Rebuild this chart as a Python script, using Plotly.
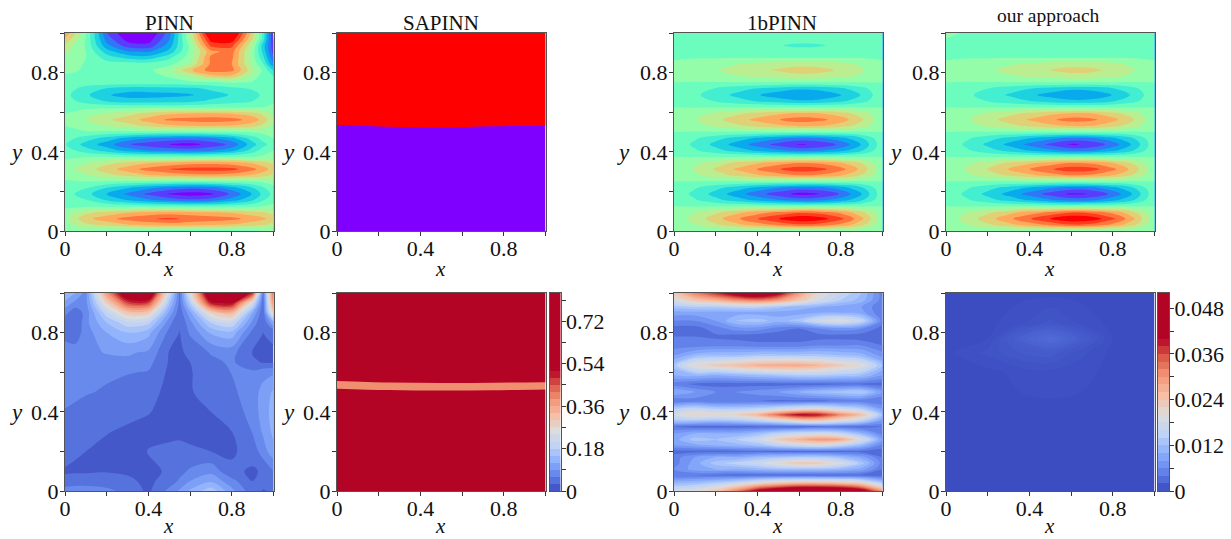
import math
import plotly.graph_objects as go

W, H = 1231, 539
FONT = "Liberation Serif"

# ---------- data ----------
TITLES = ["PINN", "SAPINN", "1bPINN", "our approach"]
AXIS_TICKS = [0, 0.2, 0.4, 0.6, 0.8, 1.0]
AXIS_TICK_TEXT = ["0", "", "0.4", "", "0.8", ""]
BAR_A_TICKS = [0, 0.09, 0.18, 0.27, 0.36, 0.45, 0.54, 0.63, 0.72, 0.81]
BAR_A_TEXT = ["0", "", "0.18", "", "0.36", "", "0.54", "", "0.72", ""]
BAR_B_TICKS = [0, 0.006, 0.012, 0.018, 0.024, 0.03, 0.036, 0.042, 0.048]
BAR_B_TEXT = ["0", "", "0.012", "", "0.024", "", "0.036", "", "0.048"]

Y32 = [i / 32 for i in range(33)]
X11 = [0, .1, .2, .3, .4, .5, .6, .7, .8, .9, 1]
X12 = [0, .1, .2, .3, .4, .5, .6, .7, .8, .9, .95, 1]

# solution panels: value in contour-band units, row by row from y=0 to y=1
U_PINN = [
 [.8,.6,.4,.3,.2,.1,.1,.1,.1,.3,.5,.8],
 [1.0,2.2,2.8,3.4,3.8,4.0,3.8,3.6,3.4,2.9,2.6,2.1],
 [1.2,3.2,4.1,4.9,5.4,5.7,5.3,5.1,4.8,4.1,3.7,3.0],
 [.9,2.2,2.8,3.4,3.8,4.0,3.8,3.6,3.4,2.9,2.6,2.1],
 [.3,.3,.2,.1,0,-.1,-.2,-.2,0,.2,.5,.7],
 [.1,-.4,-1.6,-2.5,-3.3,-3.9,-4.3,-4.0,-3.0,-1.6,-.6,.2],
 [0,-1.1,-2.5,-3.7,-4.7,-5.6,-6,-5.7,-4.3,-2.4,-1.2,-.2],
 [.1,-.4,-1.5,-2.4,-3.2,-3.8,-4.2,-3.9,-2.9,-1.5,-.6,.2],
 [.4,.5,.4,.3,.2,.1,.1,.2,.3,.5,.7,.9],
 [.8,1.4,2.2,2.8,3.4,3.8,4.1,4.2,4.0,3.4,2.9,2.3],
 [1.1,2,3,4,4.9,5.5,5.9,6,5.8,4.8,4.0,3.0],
 [.8,1.4,2.2,2.8,3.4,3.8,4.1,4.2,4.0,3.4,2.9,2.3],
 [.3,.4,.4,.3,.2,.2,.2,.3,.4,.5,.7,.9],
 [0,-1.0,-1.9,-2.9,-3.5,-3.8,-4,-3.6,-2.8,-1.0,-.1,.5],
 [-.4,-1.9,-3,-4.4,-5,-5.5,-5.8,-5.2,-4.2,-1.9,-.8,0],
 [0,-1.0,-1.9,-2.9,-3.5,-3.8,-4,-3.6,-2.8,-1.0,-.1,.5],
 [.3,.4,.3,.2,.2,.1,.2,.2,.4,.6,.8,1],
 [.5,1.1,1.6,2.1,2.8,3.3,3.5,3.6,3.4,2.9,2.2,1.3],
 [.7,1.5,2.3,3,3.9,4.7,4.9,5.1,4.9,4.1,3.1,1.6],
 [.5,1.1,1.6,2.1,2.8,3.3,3.5,3.6,3.4,2.9,2.2,1.3],
 [.2,.2,.2,.2,.2,.2,.2,.3,.3,.4,.5,.7],
 [0,-.9,-1.6,-2,-2,-1.9,-1.8,-1.3,-.9,-.5,-.1,.4],
 [-.2,-1.3,-2.4,-2.9,-2.9,-2.8,-2.6,-2,-1.4,-.9,-.3,.3],
 [0,-.9,-1.6,-2,-2,-1.9,-1.8,-1.3,-.8,-.4,-.1,.2],
 [.1,0,.1,.1,.1,.1,.2,.3,.6,.4,0,-.1],
 [.3,.2,.2,.2,.2,.6,1.6,3.0,3.2,1.0,.1,-.5],
 [.9,.3,.1,.1,.3,1.2,3.3,5.0,4.8,1.8,.3,-1.6],
 [1.1,.4,-.1,0,0,.2,1.6,4.7,4.5,1.2,-.4,-3.6],
 [1.4,.5,-.9,-1.8,-2.0,-.7,1.0,4.7,4.7,1.0,-1.2,-4.4],
 [1.7,.5,-2.0,-3.4,-3.6,-2.2,.8,4.2,4.9,1.0,-1.8,-5.0],
 [2.2,.4,-3.2,-5,-5.2,-3.0,.8,5.8,5.8,1.4,-2,-5.2],
 [3.3,.4,-3.9,-5.9,-6.0,-3.6,1.4,7.0,7.2,2.4,-1.0,-5.6],
 [4.4,.6,-4.5,-6.5,-6.7,-4.0,1.6,8.5,8.5,3.0,-.8,-5.8],
]

U_LB = [
 [.6,.6,.6,.6,.6,.6,.6,.6,.6,.6,.6],
 [.74,1.47,2.33,3.2,4.02,4.75,5.33,5.09,4.26,2.81,.74],
 [.84,1.86,3.08,4.31,5.46,6.48,7.3,6.96,5.8,3.76,.84],
 [.74,1.47,2.33,3.2,4.02,4.75,5.33,5.09,4.26,2.81,.74],
 [.5,.45,.45,.45,.45,.45,.45,.45,.45,.45,.5],
 [.27,-.39,-1.2,-2.0,-2.77,-3.43,-3.97,-3.75,-2.99,-1.64,.27],
 [.18,-.76,-1.89,-3.03,-4.1,-5.04,-5.8,-5.49,-4.41,-2.52,.18],
 [.27,-.39,-1.2,-2.0,-2.77,-3.43,-3.97,-3.75,-2.99,-1.64,.27],
 [.5,.45,.45,.45,.45,.45,.45,.45,.45,.45,.5],
 [.7,1.3,2.01,2.73,3.4,4.0,4.48,4.28,3.6,2.41,.7],
 [.78,1.62,2.63,3.64,4.59,5.43,6.1,5.82,4.87,3.19,.78],
 [.7,1.3,2.01,2.73,3.4,4.0,4.48,4.28,3.6,2.41,.7],
 [.5,.45,.45,.45,.45,.45,.45,.45,.45,.45,.5],
 [.28,-.37,-1.15,-1.93,-2.66,-3.31,-3.83,-3.62,-2.88,-1.58,.28],
 [.19,-.72,-1.82,-2.92,-3.95,-4.87,-5.6,-5.3,-4.26,-2.43,.19],
 [.28,-.37,-1.15,-1.93,-2.66,-3.31,-3.83,-3.62,-2.88,-1.58,.28],
 [.5,.45,.45,.45,.45,.45,.45,.45,.45,.45,.5],
 [.66,1.14,1.71,2.29,2.83,3.31,3.7,3.54,2.99,2.03,.66],
 [.73,1.4,2.21,3.02,3.79,4.46,5.0,4.78,4.01,2.66,.73],
 [.66,1.14,1.71,2.29,2.83,3.31,3.7,3.54,2.99,2.03,.66],
 [.5,.45,.45,.45,.45,.45,.45,.45,.45,.45,.5],
 [.36,-.07,-.58,-1.09,-1.57,-2,-2.34,-2.2,-1.72,-.86,.36],
 [.3,-.3,-1.02,-1.74,-2.42,-3.02,-3.5,-3.3,-2.62,-1.42,.3],
 [.36,-.07,-.58,-1.09,-1.57,-2,-2.34,-2.2,-1.72,-.86,.36],
 [.5,.45,.45,.45,.45,.45,.45,.45,.45,.45,.5],
 [.59,.84,1.15,1.45,1.74,2.0,2.2,2.12,1.83,1.32,.59],
 [.62,.98,1.41,1.84,2.25,2.61,2.9,2.78,2.37,1.65,.62],
 [.59,.84,1.15,1.45,1.74,2.0,2.2,2.12,1.83,1.32,.59],
 [.45,.45,.45,.45,.45,.45,.45,.45,.45,.45,.45],
 [.46,.34,.2,.06,-.07,-.19,-.28,-.25,-.11,.12,.46],
 [.44,.28,.08,-.12,-.3,-.47,-.6,-.55,-.36,-.03,.44],
 [.46,.34,.2,.06,-.07,-.19,-.28,-.25,-.11,.12,.46],
 [.3,.3,.3,.3,.3,.3,.3,.3,.3,.3,.3],
]

U_OURS = [
 [.6,.6,.6,.6,.6,.6,.6,.6,.6,.6,.6],
 [.74,1.48,2.31,3.14,3.98,4.76,5.4,5.2,4.22,2.75,.74],
 [.85,1.88,3.05,4.23,5.4,6.5,7.4,7.12,5.74,3.67,.85],
 [.74,1.48,2.31,3.14,3.98,4.76,5.4,5.2,4.22,2.75,.74],
 [.5,.45,.45,.45,.45,.45,.45,.45,.45,.45,.5],
 [.28,-.38,-1.13,-1.88,-2.63,-3.33,-3.9,-3.73,-2.85,-1.52,.28],
 [.19,-.74,-1.79,-2.85,-3.9,-4.89,-5.7,-5.45,-4.21,-2.35,.19],
 [.28,-.38,-1.13,-1.88,-2.63,-3.33,-3.9,-3.73,-2.85,-1.52,.28],
 [.5,.45,.45,.45,.45,.45,.45,.45,.45,.45,.5],
 [.7,1.3,1.97,2.65,3.32,3.96,4.48,4.32,3.52,2.33,.7],
 [.78,1.62,2.57,3.52,4.48,5.37,6.1,5.88,4.76,3.08,.78],
 [.7,1.3,1.97,2.65,3.32,3.96,4.48,4.32,3.52,2.33,.7],
 [.5,.45,.45,.45,.45,.45,.45,.45,.45,.45,.5],
 [.29,-.35,-1.08,-1.8,-2.52,-3.21,-3.76,-3.59,-2.74,-1.46,.29],
 [.2,-.7,-1.72,-2.74,-3.76,-4.72,-5.65,-5.26,-4.06,-2.26,.2],
 [.29,-.35,-1.08,-1.8,-2.52,-3.21,-3.76,-3.59,-2.74,-1.46,.29],
 [.5,.45,.45,.45,.45,.45,.45,.45,.45,.45,.5],
 [.66,1.12,1.66,2.19,2.72,3.22,3.62,3.5,2.87,1.93,.66],
 [.72,1.38,2.13,2.88,3.62,4.33,4.9,4.72,3.84,2.52,.72],
 [.66,1.12,1.66,2.19,2.72,3.22,3.62,3.5,2.87,1.93,.66],
 [.5,.45,.45,.45,.45,.45,.45,.45,.45,.45,.5],
 [.36,-.05,-.52,-1,-1.47,-1.91,-2.27,-2.16,-1.6,-.77,.36],
 [.3,-.28,-.94,-1.61,-2.27,-2.89,-3.4,-3.24,-2.46,-1.29,.3],
 [.36,-.05,-.52,-1,-1.47,-1.91,-2.27,-2.16,-1.6,-.77,.36],
 [.5,.45,.45,.45,.45,.45,.45,.45,.45,.45,.5],
 [.58,.83,1.1,1.38,1.66,1.92,2.13,2.07,1.74,1.25,.58],
 [.62,.96,1.35,1.74,2.13,2.5,2.8,2.71,2.25,1.56,.62],
 [.58,.83,1.1,1.38,1.66,1.92,2.13,2.07,1.74,1.25,.58],
 [.45,.45,.45,.45,.45,.45,.45,.45,.45,.45,.45],
 [.47,.4,.32,.23,.15,.07,.0,.02,.12,.27,.47],
 [.46,.36,.24,.12,0,-.11,-.2,-.17,-.03,.18,.46],
 [.47,.4,.32,.23,.15,.07,.0,.02,.12,.27,.47],
 [.9,.3,.3,.3,.3,.3,.3,.3,.3,.3,.3],
]

# SAPINN solution: two flat regions split by a curve near y = 0.53
SAP_X = [0, .25, .5, .75, 1]
SAP_Y = [0, .515, .54, 1]
U_SAP = [
 [-1, -1, -1, -1, -1],
 [-1, -.35, -.39, -.6, -1],
 [.25, .4, 1, .5, .47],
 [1, 1, 1, 1, 1],
]

# PINN error, in hundredths
E_PINN_X = [0, .05, .1, .2, .3, .4, .5, .55, .6, .7, .8, .9, .95, 1]
E_PINN_Y = [0, .05, .1, .2, .3, .4, .5, .6, .65, .7, .8, .85, .9, .95, 1]
E_PINN = [
 [7.5,7.5,7.5,6.8,5,2.4,7,9.5,12.5,17,10,4,2.9,3.2],
 [4.0,4.5,4.6,4.4,3.5,2.4,4.2,6.5,9,11.5,7,3,3.5,4.5],
 [2.6,2.6,2.6,2.8,2.6,2.3,3.4,5.0,6.5,8,3.6,2.6,3.4,6],
 [4.5,3.3,3.0,2.5,2.3,3.1,3.7,4,3.4,3,2.6,4.2,7.5,11],
 [4.3,3.8,3.5,3.1,2.7,2.4,2.2,2.2,2.3,2.5,3.0,6.2,9.5,12.8],
 [5.8,5.2,4.6,3.9,3.5,3.1,2.4,2.3,2.4,3,4.4,7.2,10.5,13.2],
 [7,6.8,6.3,5.6,4.7,3.5,2.6,2.4,2.8,4.0,5.4,7.6,10,12.5],
 [7.2,7.0,6.8,6.6,6.2,5.8,2.4,2.5,2.8,4.5,6.1,6.6,8,8.5],
 [7.3,7.2,7.3,8,8.3,7,2.7,2.5,3,5.2,6.5,3.5,2.8,2.6],
 [7.3,7.4,8.2,9.2,9.4,8.5,2.8,2.6,3.6,6.3,7,2.8,2.5,2.7],
 [5,4.2,7.5,12,15,13,5,2.9,6.5,12.5,14,5,3,3.5],
 [4,3,8,15,20,19,7,3.2,8,18,21,8,3,12],
 [7,4,7,20,30,29,11,4,11,28,33,12,3.5,30],
 [11,8,8,28,46,46,16,5,18,50,52,23,4,40],
 [15,12,8,38,60,62,22,5,25,62,68,48,5,44],
]

# SAPINN error: a thin band on a flat high field
SAP_E_Y = [0, .49, .52, .535, .57, 1]
E_SAP = [
 [.8, .8, .8, .8, .8],
 [.8, .8, .8, .8, .8],
 [.578, .5, .447, .484, .539],
 [.3, .482, .508, .496, .467],
 [.8, .8, .8, .8, .8],
 [.8, .8, .8, .8, .8],
]

# 1bPINN error, in thousandths
E_LB_Y = [0, .04, .08, .11, .14, .17, .2, .23, .26, .29, .325, .355, .385, .415,
          .455, .5, .54, .585, .635, .685, .735, .78, .82, .86, .9, .93, .965, 1]
E_LB = [
 [18,20,24,32,42,48,52,52,50,44,30],
 [11,12,14,17,21,24,26,26,25,22,14],
 [4,4,3.5,3,3,3,3,3,3,3,2.5],
 [6,9,10,10,11,12,12,12,11,9,4],
 [5,9,13,15,17,21,24,23,19,13,5],
 [5,8,10,10,12,13,14,14,12,9,4],
 [3,3,3,3,3.5,3,3,3,3,3,3],
 [8,9,10,11,12,15,17,18,15,11,5],
 [9,13,12,14,17,23,27,30,28,19,8],
 [8,10,10,10,12,15,17,18,16,11,5],
 [4,3,3,3,3,3,3,3.5,3.5,3,4],
 [13,13,12,13,15,18,22,23,19,15,8],
 [18,22,21,22,26,34,41,39,31,25,12],
 [14,16,14,14,15,17,19,20,17,14,8],
 [4,5,4,4,4,3.5,3.5,3.5,4.5,4.5,4],
 [10,8,6,6,7,8,10,12,13,14,8],
 [5,3.5,3,3,3,3,3,3,3.5,3.5,3],
 [10,11,10,11,12,13,14,14,13,12,8],
 [13,21,23,25,27,28,28,26,23,20,12],
 [8,11,12,12,13,13,13,13,12,11,7],
 [5,5,5.5,5.5,5,5,5,6,6,6,4],
 [4,4,3.5,3,2.5,2.5,2.5,3,3,2.5,3],
 [3,3,5,7,7,5,4,6,7,6,3],
 [6,6,8,12,13,11,13,18,20,16,5],
 [9,9,9,9,9,9,9,10,10,9,4],
 [13,14,14,15,15,13,11,10,9,8,4],
 [19,24,27,31,33,30,24,18,14,11,5],
 [24,32,38,44,48,42,30,20,16,12,5],
]

# our approach error, in thousandths
E_OUR_X = [0, .2, .35, .5, .65, .8, 1]
E_OUR_Y = [0, .4, .6, .7, .77, .85, 1]
E_OURS = [
 [.2,.2,.2,.2,.2,.2,.2],
 [.2,.2,.2,.2,.2,.2,.2],
 [.2,.2,.4,.5,.4,.2,.2],
 [.2,.7,1.2,1.4,.7,.2,.2],
 [.2,.3,1.8,2.9,1.6,.3,.2],
 [.2,.2,.5,1.0,.5,.2,.2],
 [.2,.2,.2,.2,.2,.2,.2],
]

# ---------- colours ----------
def rainbow(t):
    r = abs(2 * t - .5)
    g = math.sin(math.pi * t)
    b = math.cos(math.pi * t / 2)
    return "rgb(%d,%d,%d)" % (min(r, 1) * 255, g * 255, b * 255)

CW = [(0, (59,76,192)), (.125, (98,130,234)), (.25, (141,176,254)), (.375, (191,211,246)),
      (.5, (221,220,220)), (.625, (246,191,166)), (.75, (244,152,123)), (.875, (220,93,74)), (1, (180,4,38))]

def coolwarm(t):
    t = min(max(t, 0), 1)
    for (a, ca), (b, cb) in zip(CW, CW[1:]):
        if t <= b:
            f = (t - a) / (b - a)
            return "rgb(%d,%d,%d)" % tuple(ca[i] + f * (cb[i] - ca[i]) for i in range(3))
    return "rgb(180,4,38)"

def stepped(colors):
    n = len(colors) - 1
    out = []
    for k, c in enumerate(colors):
        lo = max(0, (k - .75) / n)
        hi = 1 if k == n else (k + .25) / n
        out += [[lo, c], [hi, c]]
    return out

RB_COLORS = [rainbow(i / 13) for i in range(14)]
A_COLORS = [coolwarm((k + .5) * .03 / .51) for k in range(28)]
B_COLORS = [coolwarm((k + .5) * .002 / .04) for k in range(26)]
OUR_COLORS = [coolwarm((k + .5) * .3 / 40) for k in range(10)]

RB = dict(start=-5.5, end=6.5, size=1)
CA = dict(start=3, end=81, size=3)
CB = dict(start=2, end=50, size=2)
CO = dict(start=.3, end=2.7, size=.3)

PANEL_L = [65, 337, 674, 946]
PANEL_W = 208.5
ROW_T = [33, 293]
PANEL_H = 198
XLABEL_Y = [269, 526]

panels = [
    (U_PINN, X12, Y32, RB, RB_COLORS),
    (U_SAP, SAP_X, SAP_Y, dict(start=0, end=0, size=1), ["#8000ff", "#ff0000"]),
    (U_LB, X11, Y32, RB, RB_COLORS),
    (U_OURS, X11, Y32, RB, RB_COLORS),
    (E_PINN, E_PINN_X, E_PINN_Y, CA, A_COLORS),
    (E_SAP, SAP_X, SAP_E_Y, dict(start=.6, end=.6, size=1), ["#f08f70", "#b40426"]),
    (E_LB, X11, E_LB_Y, CB, B_COLORS),
    (E_OURS, E_OUR_X, E_OUR_Y, CO, OUR_COLORS),
]

fig = go.Figure()
layout = dict(
    width=W, height=H, margin=dict(l=0, r=0, t=0, b=0, autoexpand=False), paper_bgcolor="white", plot_bgcolor="white",
    showlegend=False, font=dict(family=FONT, size=21, color="#111"),
)
ann = []
LINE = "#555"

def xd(a, b): return [a / W, b / W]
def yd(t, b): return [1 - b / H, 1 - t / H]

def label(text, px, py, size, italic=False):
    ann.append(dict(text="<i>%s</i>" % text if italic else text, x=px / W, y=1 - py / H, xref="paper", yref="paper",
                    xanchor="center", yanchor="middle", showarrow=False,
                    font=dict(family=FONT, size=size, color="#111")))

for i, (z, x, y, lev, cols) in enumerate(panels):
    col, row = i % 4, i // 4
    n = i + 1
    fig.add_trace(go.Contour(
        z=z, x=x, y=y, xaxis="x%d" % n, yaxis="y%d" % n, showscale=False, hoverinfo="skip",
        autocontour=False, contours=dict(coloring="fill", showlines=False, **lev),
        line=dict(width=0, smoothing=1), colorscale=stepped(cols),
    ))
    l, t = PANEL_L[col], ROW_T[row]
    common = dict(range=[0, 1], tickmode="array", tickvals=AXIS_TICKS, ticktext=AXIS_TICK_TEXT,
                  ticks="outside", ticklen=4, tickwidth=1, tickcolor="#333", showgrid=False,
                  zeroline=False, showline=True, mirror=True, linecolor=LINE, linewidth=1,
                  tickfont=dict(family=FONT, size=22, color="#111"))
    layout["xaxis%d" % n] = dict(domain=xd(l, l + PANEL_W), anchor="y%d" % n, ticklabelstandoff=-6, **common)
    layout["yaxis%d" % n] = dict(domain=yd(t, t + PANEL_H), anchor="x%d" % n, ticklabelstandoff=-3, **common)
    label("x", l + PANEL_W / 2 - 1, XLABEL_Y[row], 21, True)
    label("y", [16, 288, 623, 895][col], t + 119, 23, True)

TITLE_POS = [(169, 23, 21), (441, 23, 21), (782, 23, 21), (1048, 16, 19.5)]
for txt, (tx, ty, fs) in zip(TITLES, TITLE_POS):
    label(txt, tx, ty, fs)

# colour bars, drawn from the band edges
def bar(n, left, right, step, colors, tickvals, ticktext):
    edges = [round(k * step, 6) for k in range(len(colors) + 1)]
    fig.add_trace(go.Heatmap(
        z=[[k] for k in range(len(colors))], x=[0, 1], y=edges, xaxis="x%d" % n, yaxis="y%d" % n,
        zmin=0, zmax=len(colors) - 1, colorscale=stepped(colors), showscale=False, hoverinfo="skip",
    ))
    layout["xaxis%d" % n] = dict(domain=xd(left, right), anchor="y%d" % n, range=[0, 1], showticklabels=False,
                                 ticks="", showgrid=False, zeroline=False, showline=True, mirror=True,
                                 linecolor=LINE, linewidth=1)
    layout["yaxis%d" % n] = dict(domain=yd(ROW_T[1], ROW_T[1] + PANEL_H), anchor="x%d" % n, side="right",
                                 range=[0, edges[-1]], tickmode="array", tickvals=tickvals, ticktext=ticktext,
                                 ticks="outside", ticklen=4, tickwidth=1, tickcolor="#333", showgrid=False,
                                 zeroline=False, showline=True, mirror=True, linecolor=LINE, linewidth=1,
                                 ticklabelstandoff=-4, tickfont=dict(family=FONT, size=22, color="#111"))

bar(9, 550, 560.5, .03, A_COLORS, BAR_A_TICKS, BAR_A_TEXT)
bar(10, 1158, 1169, .002, B_COLORS, BAR_B_TICKS, BAR_B_TEXT)

layout["annotations"] = ann
fig.update_layout(**layout)
fig.write_html("out.html", config=dict(displayModeBar=False),
               post_script="document.body.style.margin='0';document.body.style.overflow='hidden';")
